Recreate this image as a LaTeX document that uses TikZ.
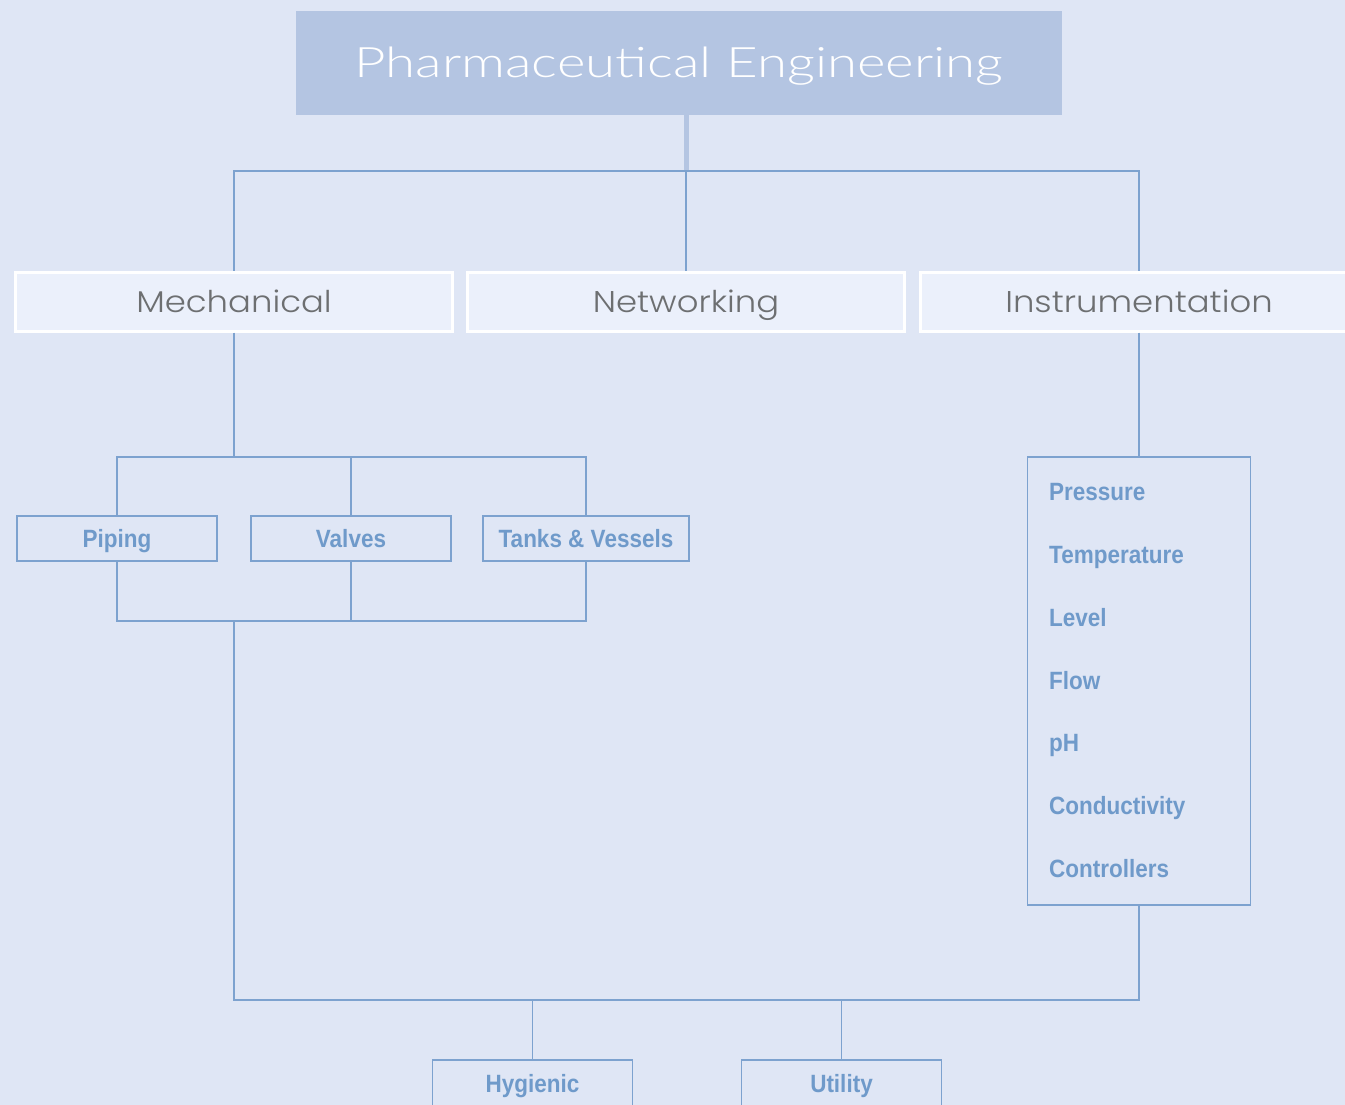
\documentclass[tikz,border=0pt]{standalone}
\usepackage{fontspec}
\newfontfamily\titlefont{Lato Light}[FakeStretch=1.3]
\newfontfamily\catfont{Poppins Light}[FakeStretch=1.13]
\newfontfamily\labfont{Liberation Sans}[FakeStretch=0.9]
\definecolor{bgc}{HTML}{DFE6F5}
\definecolor{titlefill}{HTML}{B4C5E2}
\definecolor{catfill}{HTML}{EBF0FB}
\definecolor{cattext}{HTML}{6D6F71}
\definecolor{linec}{HTML}{7DA2CF}
\definecolor{labtext}{HTML}{6F9ACA}
\tikzset{
  titlebox/.style={fill=titlefill, draw=none, minimum width=766pt, minimum height=104pt, inner sep=0pt,
    text=white, font=\titlefont\fontsize{42}{46}\selectfont, text height=30pt, text depth=0pt},
  catbox/.style={fill=catfill, draw=white, line width=3pt, minimum width=437pt, minimum height=59pt, inner sep=0pt,
    text=cattext, font=\catfont\fontsize{30}{34}\selectfont, text height=21pt, text depth=0pt},
  subbox/.style={draw=linec, line width=1.5pt, minimum width=200pt, minimum height=45pt, inner sep=0pt,
    text=labtext, font=\labfont\bfseries\fontsize{25}{29}\selectfont, text height=18pt, text depth=0pt},
  itembox/.style={draw=linec, line width=1.5pt, minimum width=223pt, minimum height=448pt, inner sep=0pt},
  item/.style={anchor=base west, inner sep=0pt, text=labtext, font=\labfont\bfseries\fontsize{25}{29}\selectfont},
  conn/.style={draw=linec, line width=1.5pt},
  thickconn/.style={draw=titlefill, line width=5pt}
}
\begin{document}
\begin{tikzpicture}[x=1pt,y=-1pt]
\clip (0,0) rectangle (1345,1105);
\fill[bgc] (0,0) rectangle (1345,1105);
\useasboundingbox (0,0) rectangle (1345,1105);

\node[titlebox] (title) at (679,63) {Pharmaceutical Engineering};

\node[catbox] (mech) at (234,301.5) {Mechanical};
\node[catbox] (net) at (686,301.5) {Networking};
\node[catbox] (inst) at (1139,301.5) {Instrumentation};

\node[subbox] (piping) at (117,538.5) {Piping};
\node[subbox] (valves) at (351,538.5) {Valves};
\node[subbox, minimum width=206pt] (tanks) at (586,538.5) {Tanks \& Vessels};

\node[itembox] (ibox) at (1139,681) {};
\node[item] (i1) at (1049,500.5) {Pressure};
\node[item] (i2) at (1049,563.5) {Temperature};
\node[item] (i3) at (1049,626.5) {Level};
\node[item] (i4) at (1049,689.5) {Flow};
\node[item] (i5) at (1049,751.5) {pH};
\node[item] (i6) at (1049,814.5) {Conductivity};
\node[item] (i7) at (1049,877.5) {Controllers};

\node[subbox, minimum height=46pt] (hyg) at (532.5,1083) {Hygienic};
\node[subbox, minimum height=46pt] (util) at (841.5,1083) {Utility};

\coordinate (b1) at (0,171);
\coordinate (b2) at (0,457);
\coordinate (b3) at (0,621);
\coordinate (b4) at (0,1000);

\draw[thickconn] (net.north |- title.south) -- (net.north |- b1);
\draw[conn] (mech.north) -- (mech.north |- b1) -- (inst.north |- b1) -- (inst.north);
\draw[conn] (net.north) -- (net.north |- b1);

\draw[conn] (mech.south) -- (mech.south |- b2);
\draw[conn] (piping.north) -- (piping.north |- b2) -- (tanks.north |- b2) -- (tanks.north);
\draw[conn] (valves.north) -- (valves.north |- b2);
\draw[conn] (piping.south) -- (piping.south |- b3) -- (tanks.south |- b3) -- (tanks.south);
\draw[conn] (valves.south) -- (valves.south |- b3);

\draw[conn] (inst.south) -- (ibox.north);

\draw[conn] (mech.south |- b3) -- (mech.south |- b4) -- (ibox.south |- b4) -- (ibox.south);
\draw[conn] (hyg.north |- b4) -- (hyg.north);
\draw[conn] (util.north |- b4) -- (util.north);
\end{tikzpicture}
\end{document}
